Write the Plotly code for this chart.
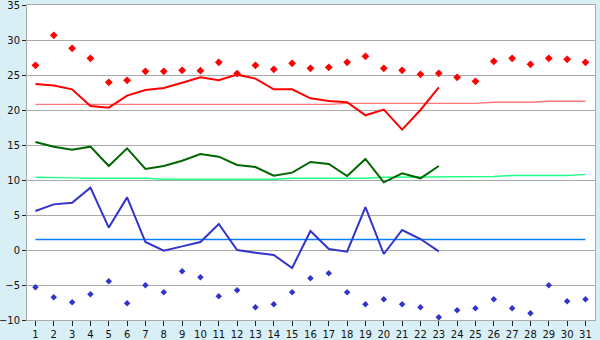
import plotly.graph_objects as go

days = list(range(1, 32))
days_obs = list(range(1, 24))

max_temp = [23.7, 23.5, 22.95, 20.57, 20.33, 22.05, 22.86, 23.14, 23.9, 24.67, 24.24, 25.05,
            24.48, 22.95, 22.95, 21.67, 21.29, 21.1, 19.24, 20.05, 17.2, 20.0, 23.24]
mean_temp = [15.43, 14.76, 14.33, 14.76, 12.0, 14.52, 11.57, 12.0, 12.76, 13.71, 13.33, 12.14,
             11.86, 10.62, 11.05, 12.57, 12.29, 10.57, 13.0, 9.67, 10.95, 10.24, 12.0]
min_temp = [5.57, 6.52, 6.76, 8.9, 3.2, 7.52, 1.14, -0.1, 0.52, 1.14, 3.71, 0.0,
            -0.38, -0.71, -2.57, 2.71, 0.14, -0.24, 6.14, -0.57, 2.86, 1.57, -0.19]

record_max = [26.38, 30.67, 28.81, 27.38, 23.95, 24.24, 25.52, 25.52, 25.67, 25.62, 26.81, 25.2,
              26.38, 25.81, 26.67, 25.95, 26.1, 26.81, 27.67, 25.95, 25.67, 25.1, 25.24, 24.67,
              24.1, 26.95, 27.38, 26.52, 27.38, 27.24, 26.81]
record_min = [-5.33, -6.76, -7.48, -6.33, -4.48, -7.62, -5.05, -6.05, -3.05, -3.9, -6.62, -5.76,
              -8.19, -7.76, -6.05, -4.05, -3.33, -6.05, -7.76, -7.05, -7.76, -8.19, -9.62, -8.62,
              -8.33, -7.05, -8.33, -9.05, -5.05, -7.33, -7.05]

normal_max = [20.8] * 17 + [20.95] * 8 + [21.1] * 3 + [21.25] * 3
normal_mean = [10.4, 10.4, 10.3, 10.25, 10.25, 10.25, 10.25, 10.1, 10.1, 10.1, 10.1, 10.1, 10.1, 10.1,
               10.25, 10.25, 10.25, 10.25, 10.25, 10.4, 10.4, 10.4, 10.4, 10.4, 10.5, 10.5,
               10.65, 10.65, 10.65, 10.65, 10.8]
normal_min = [1.5] * 4 + [1.4] * 23 + [1.5] * 4

y_ticks = [-10, -5, 0, 5, 10, 15, 20, 25, 30, 35]

fig = go.Figure()
fig.add_trace(go.Scatter(x=days, y=normal_max, mode="lines", line=dict(color="#ff7777", width=1.4)))
fig.add_trace(go.Scatter(x=days, y=normal_mean, mode="lines", line=dict(color="#22ff88", width=1.4)))
fig.add_trace(go.Scatter(x=days, y=normal_min, mode="lines", line=dict(color="#0a80ff", width=1.4)))
fig.add_trace(go.Scatter(x=days_obs, y=max_temp, mode="lines", line=dict(color="#ff0000", width=2)))
fig.add_trace(go.Scatter(x=days_obs, y=mean_temp, mode="lines", line=dict(color="#006600", width=2)))
fig.add_trace(go.Scatter(x=days_obs, y=min_temp, mode="lines", line=dict(color="#3333cc", width=2)))
fig.add_trace(go.Scatter(x=days, y=record_max, mode="markers",
                         marker=dict(symbol="diamond", size=6, color="#ff0000")))
fig.add_trace(go.Scatter(x=days, y=record_min, mode="markers",
                         marker=dict(symbol="diamond", size=5, color="#3333cc")))

fig.update_layout(
    width=600, height=340,
    margin=dict(l=27, r=5, t=5, b=20),
    paper_bgcolor="#d8eff6",
    plot_bgcolor="#ffffff",
    showlegend=False,
    font=dict(family="DejaVu Sans", size=10, color="#111111"),
)
fig.update_xaxes(
    range=[0.54, 31.52], tickvals=days, ticktext=[str(d) for d in days],
    showgrid=False, zeroline=False, automargin=False,
    showline=True, linecolor="#aaaaaa", linewidth=1, mirror=True,
    ticks="outside", ticklen=5, tickcolor="#222222", tickwidth=1,
)
fig.update_yaxes(
    range=[-10, 35], tickvals=y_ticks,
    showgrid=True, gridcolor="#aaaaaa", gridwidth=1, zeroline=False, automargin=False,
    showline=True, linecolor="#aaaaaa", linewidth=1, mirror=True,
    ticks="outside", ticklen=4, tickcolor="#222222",
    ticklabeloverflow="allow",
)

fig.write_html("out.html")
